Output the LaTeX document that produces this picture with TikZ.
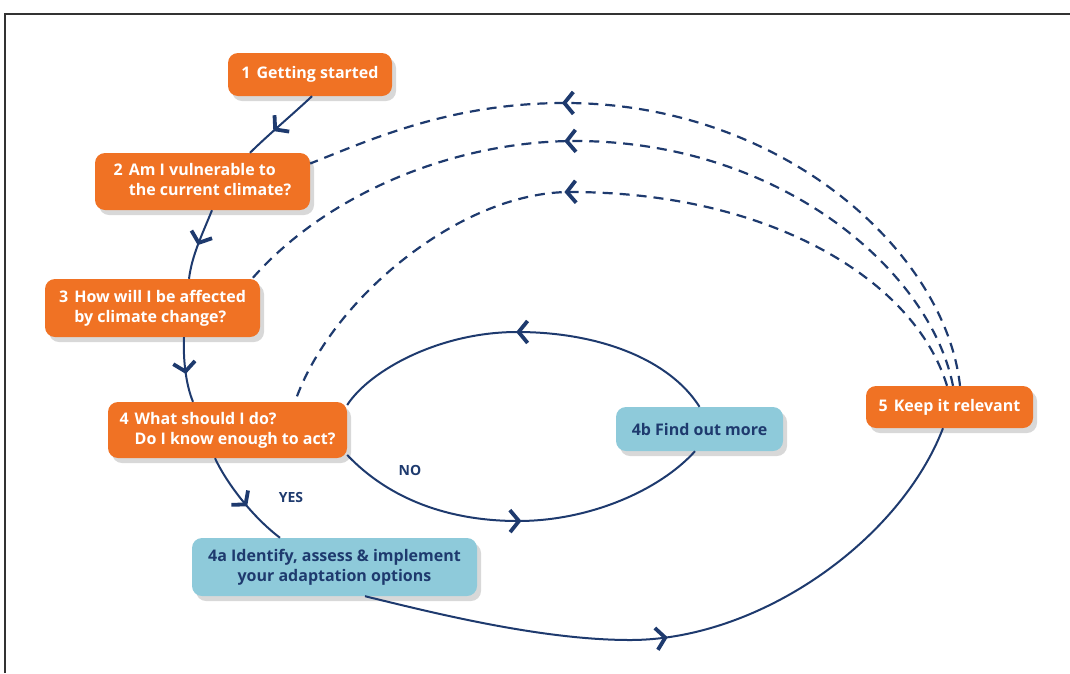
\documentclass[tikz,border=0pt]{standalone}
\usepackage{fontspec}
\setmainfont{Open Sans}
\usetikzlibrary{arrows.meta,decorations.markings,shadows}
\definecolor{orangeC}{RGB}{240,114,36}
\definecolor{blueC}{RGB}{142,202,218}
\definecolor{navy}{RGB}{30,58,110}
\begin{document}
\begin{tikzpicture}[x=1pt,y=-1pt,
  chev/.tip={Straight Barb[length=9pt,width=22pt,line width=3.8pt]},
  box/.style={rounded corners=10pt, inner sep=0pt, font=\fontsize{16}{20}\selectfont\bfseries,
     drop shadow={shadow xshift=4pt, shadow yshift=-5pt, opacity=0.28, fill=black!55}},
  obox/.style={box, fill=orangeC, text=white},
  bbox/.style={box, fill=blueC, text=navy},
  flow/.style={draw=navy, line width=2pt},
  fb/.style={draw=navy, line width=2.2pt, dash pattern=on 10pt off 7pt},
  midarrow/.style={postaction={decorate}, decoration={markings, mark=at position #1 with {\arrow[navy]{chev}}}},
  lbl/.style={text=navy, font=\fontsize{14}{16}\selectfont\bfseries}]
\useasboundingbox (0,0) rectangle (1070,673);
\draw[line width=2pt, black!80] (5,673) -- (5,14) -- (1070,14);

\node[obox, minimum width=164pt, minimum height=43pt] (n1) at (310,74.5) {1\hspace{6pt}Getting started};
\node[obox, minimum width=215pt, minimum height=57pt] (n2) at (202.5,181.5)
  {\begin{tabular}{@{}l@{\hspace{6pt}}l@{}}2 & Am I vulnerable to\\ & the current climate?\end{tabular}};
\node[obox, minimum width=215pt, minimum height=58pt] (n3) at (152.5,308)
  {\begin{tabular}{@{}l@{\hspace{6pt}}l@{}}3 & How will I be affected\\ & by climate change?\end{tabular}};
\node[obox, minimum width=239pt, minimum height=56pt] (n4) at (227.5,430)
  {\begin{tabular}{@{}l@{\hspace{6pt}}l@{}}4 & What should I do?\\ & Do I know enough to act?\end{tabular}};
\node[bbox, minimum width=285pt, minimum height=58pt, align=center] (n4a) at (334.5,567)
  {4a Identify, assess \& implement\\your adaptation options};
\node[bbox, minimum width=167pt, minimum height=44pt] (n4b) at (699.5,429) {4b Find out more};
\node[obox, minimum width=167pt, minimum height=42pt] (n5) at (949.5,407) {5\hspace{6pt}Keep it relevant};

\node[lbl] (yes) at (291,497) {YES};
\node[lbl] (no) at (410,470) {NO};

% main flow
\draw[flow, midarrow=0.62] ([xshift=2pt]n1.south) .. controls (292,115) and (268,135) .. ([xshift=47.5pt]n2.north);
\draw[flow, midarrow=0.52] ([xshift=9.5pt]n2.south) .. controls (202,235) and (192,255) .. ([xshift=36.5pt]n3.north);
\draw[flow, midarrow=0.56] ([xshift=31.5pt]n3.south) .. controls (183,360) and (186,385) .. ([xshift=-34.5pt]n4.north);
\draw[flow, midarrow=0.56] ([xshift=-12.5pt]n4.south) .. controls (225,480) and (250,515) .. ([xshift=-54.5pt]n4a.north);

% NO loop
\draw[flow, midarrow=0.5] ([yshift=-25pt]n4.east) .. controls (390,500) and (450,521) .. (518,521)
   .. controls (590,521) and (660,490) .. ([xshift=-4.5pt]n4b.south);
\draw[flow, midarrow=0.52] (n4b.north) .. controls (670,360) and (600,332) .. (517,332)
   .. controls (440,332) and (370,370) .. ([yshift=25pt]n4.east);

% 4a to 5
\draw[flow, midarrow=0.46] ([xshift=30.5pt]n4a.south) .. controls (430,612) and (540,640) .. (630,640)
   .. controls (760,640) and (900,540) .. ([xshift=-6.5pt]n5.south);

% feedback dashed
\draw[fb, midarrow=0.67] ([xshift=10.5pt]n5.north) .. controls (945,250) and (780,103) .. (565,103)
   .. controls (450,103) and (370,140) .. ([yshift=18pt]n2.east);
\draw[fb, midarrow=0.585] ([xshift=3.5pt]n5.north) .. controls (930,270) and (780,141) .. (575,141)
   .. controls (460,141) and (330,190) .. ([xshift=99.5pt]n3.north);
\draw[fb, midarrow=0.56] ([xshift=-2.5pt]n5.north) .. controls (915,280) and (770,192) .. (570,192)
   .. controls (460,192) and (330,300) .. ([xshift=67.5pt]n4.north);
\end{tikzpicture}
\end{document}
